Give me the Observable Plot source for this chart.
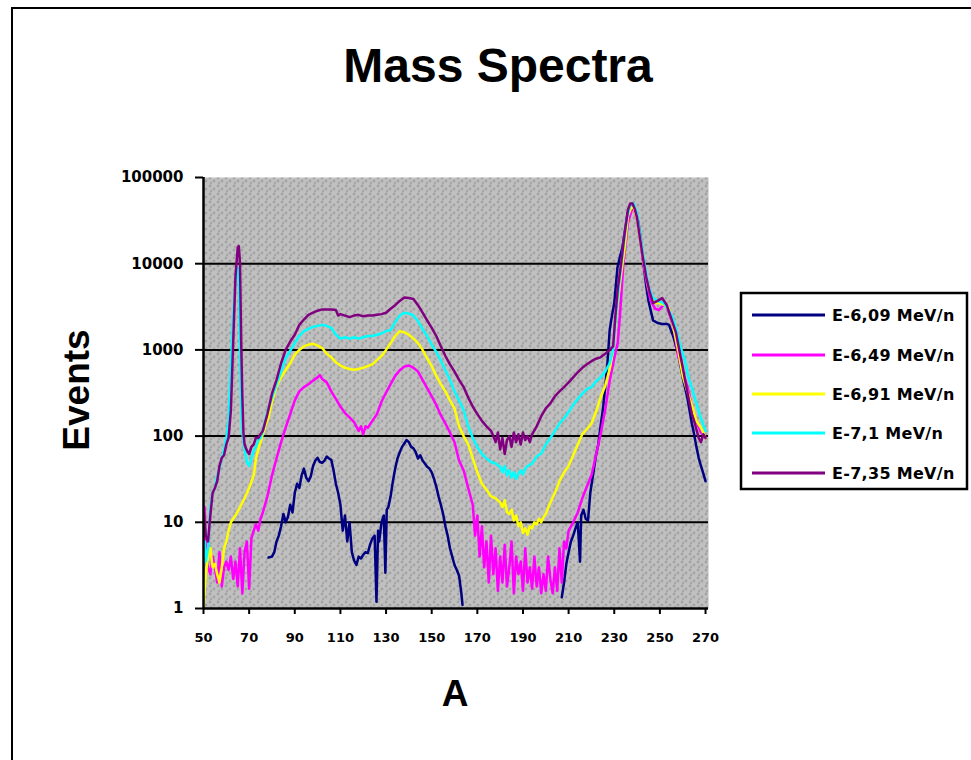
<!DOCTYPE html>
<html><head><meta charset="utf-8">
<script src="https://cdn.jsdelivr.net/npm/d3@7"></script>
<script src="https://cdn.jsdelivr.net/npm/@observablehq/plot@0.6"></script>
<style>
html,body{margin:0;padding:0;background:#fff;}
#wrap{position:relative;width:971px;height:760px;overflow:hidden;background:#fff;}
#border{position:absolute;left:11px;top:7px;width:1000px;height:800px;border-left:2px solid #000;border-top:2px solid #000;}
#chart{position:absolute;left:0;top:0;}
#chart svg text{font-family:"DejaVu Sans",sans-serif;font-weight:bold;}
#overlay{position:absolute;left:0;top:0;pointer-events:none;}
</style></head>
<body>
<div id="wrap"><div id="border"></div><div id="chart"></div><svg id="overlay" width="971" height="760"></svg></div>
<script>
const titleText = "Mass Spectra";
const xLabel = "A";
const yLabel = "Events";
const seriesNames = ["E-6,09 MeV/n","E-6,49 MeV/n","E-6,91 MeV/n","E-7,1 MeV/n","E-7,35 MeV/n"];
const seriesColors = ["#000080","#ff00ff","#ffff00","#00ffff","#800080"];
const xTicks = [50,70,90,110,130,150,170,190,210,230,250,270];
const yTicks = [1,10,100,1000,10000,100000];
const gridValues = [10,100,1000,10000];

const blue = [[78.5,3.9],[80,4],[81,4.5],[82,6],[83,7],[84,9],[85,12.5],[86,10],[87,11.5],[88,16],[89,13],[90,22],[91,28],[92,25],[93,35],[94,42],[95,33],[96,30],[97,34],[98,45],[99,52],[100,56],[101,50],[102,49],[103,52],[104,58],[105,55],[106,53],[107,40],[108,28],[109,22],[110,16],[111,8],[112,12],[113,6],[114,10],[115,4.5],[116,3.6],[117,3.2],[118,4],[119,3.8],[120,4.2],[121,4.5],[122,4.4],[123,5.5],[124,6.5],[125,7],[125.8,1.2],[126.5,8],[127,6],[128,10],[129,12],[129.7,2.6],[130.3,14],[131,15],[132,20],[133,30],[134,42],[135,55],[136,65],[137,75],[138,82],[139,90],[140,85],[141,75],[142,72],[143,65],[144,55],[145,60],[146,52],[147,48],[148,44],[149,42],[150,38],[151,32],[152,26],[153,20],[154,16],[155,12.5],[156,9],[157,7],[158,5],[159,4],[160,3.2],[161,2.8],[162,2.4],[163,1.5],[163.5,1.1],[165,null],[207,1.35],[208,2],[209,3.3],[210,4.5],[211,6],[212,7],[213,8.5],[214,10],[215,3.5],[215.5,12],[216.5,14],[217.5,11],[218.5,10.5],[219.5,22],[221,40],[222,60],[223,80],[224,130],[225,200],[226,360],[227,700],[228,1700],[229,2500],[230,3500],[231.4,9000],[232.5,12000],[233.6,15500],[234.5,22000],[235.8,38000],[237,48000],[238,50000],[239.5,40000],[240.6,30000],[241.7,18000],[242.8,10000],[244,5500],[245,3700],[247,2200],[249,2050],[251,2000],[253,2000],[254,1950],[256,1400],[258,900],[260,480],[262,280],[264,140],[264.7,115],[266,75],[267,56],[268,45],[269,37],[270,30]];

const pink = [[50,11],[50.5,15],[51,5],[52,3],[53,2.5],[54,4],[55,3],[56,2],[57,4.5],[58,1.8],[59,3],[60,3.5],[61,2.8],[62,4],[63,2.2],[64,3.5],[65,1.8],[66,5],[67,1.5],[68,4.5],[69,6],[70,1.7],[71,6.5],[72,8],[73,9.5],[74,8],[75,11],[76,13],[78,20],[80,35],[82,55],[84,85],[86,125],[88,180],[90,260],[92,330],[94,370],[96,400],[98,440],[100,480],[101,510],[102,460],[104,420],[106,330],[108,270],[110,220],[112,185],[114,165],[116,145],[118,115],[119,130],[120,105],[121,130],[122,125],[124,150],[126,180],[128,250],[130,320],[132,400],[134,500],[136,580],[138,640],[140,660],[142,620],[144,560],[146,450],[148,360],[150,290],[152,230],[154,175],[156,140],[158,110],[160,85],[162,52],[164,40],[166,25],[168,16],[169,7],[170,12],[171,4],[172,9],[173,3],[174,6],[175,2],[176,7],[177,2.5],[178,5],[179,1.6],[180,4],[181,2],[182,5.5],[183,1.8],[184,3],[185,6],[186,1.5],[187,4],[188,2.5],[189,3.5],[190,1.6],[191,5],[192,2],[193,3],[194,1.7],[195,4],[196,1.8],[197,3],[198,1.5],[199,2.5],[200,1.6],[201,4],[202,2.2],[203,1.5],[204,3],[205,1.6],[206,5],[207,2],[208,6],[209,5],[210,8],[212,10],[214,13],[216,19],[218,26],[220,35],[222,60],[224,105],[226,200],[228,440],[230,800],[231.5,1200],[232.5,2500],[234,10000],[236,30000],[238,45000],[239,40000],[240,32000],[241.5,18000],[243,9000],[244.5,5500],[246,3700],[248,3000],[249.5,2900],[251,3200],[252.5,3400],[254,2700],[256,1800],[258,850],[260,550],[262,380],[264,220],[266,150],[268,110],[270,95]];

const yellow = [[50,1],[51,2.5],[52,4],[53,5],[54,3],[55,3.3],[56,2.5],[57,2],[58,3],[59,5],[60,6],[61,8],[62,10],[64,12],[66,15],[68,19],[70,25],[72,35],[73,55],[74,70],[75.5,95],[77,130],[78.5,165],[80,250],[82,380],[84,480],[86,580],[88,700],[90,880],[92,1000],[94,1100],[96,1150],[98,1180],[100,1120],[102,1050],[104,900],[106,820],[108,720],[110,660],[112,620],[114,600],[116,590],[118,600],[120,620],[122,650],[124,680],[126,760],[128,850],[130,1000],[132,1200],[134,1450],[136,1650],[138,1600],[140,1500],[142,1350],[144,1200],[146,1000],[148,800],[150,650],[152,500],[154,400],[156,330],[158,260],[160,210],[162,130],[164,100],[166,80],[168,55],[170,38],[172,28],[174,24],[176,20],[178,19],[180,17],[181,15],[182,18],[183,13],[184,12.5],[185,14],[186,10.5],[187,12],[188,9],[189,10],[190,7.5],[191,8.5],[192,7.2],[193,9],[194,8.5],[195,10],[196,9.5],[197,11],[198,10],[199,11.5],[200,12.5],[202,17],[204,22],[206,30],[208,38],[210,45],[212,60],[214,80],[216,105],[218,120],[220,140],[222,190],[224,280],[226,380],[228,600],[229.5,1000],[231,2800],[233,7500],[234.5,15000],[236,36000],[237.5,45000],[238.5,45000],[240,33000],[241.5,18000],[243,10000],[245,5200],[246.5,4100],[248,3500],[250,3500],[252,3300],[254,3000],[256,1800],[258,1000],[260,500],[262,330],[264.3,215],[266,150],[268,125],[270,95]];

const cyan = [[50,4],[50.5,6],[51,3.5],[52,5],[53,15],[54,22],[55,25],[56,35],[57,42],[58,55],[59,70],[60,95],[61,150],[62,700],[63,2500],[64,6000],[65,9000],[65.5,8500],[66,800],[66.5,240],[67,110],[68,70],[69,50],[70,45],[71,55],[72,68],[73,75],[74,90],[75,95],[76,115],[78,190],[80,280],[82,400],[84,560],[86,800],[88,980],[90,1200],[92,1450],[94,1650],[96,1750],[98,1850],[100,1900],[102,1950],[104,1900],[106,1800],[108,1500],[110,1350],[112,1400],[114,1350],[116,1400],[118,1350],[120,1400],[122,1450],[124,1450],[126,1500],[128,1550],[130,1650],[132,1700],[134,2100],[136,2500],[138,2700],[140,2650],[142,2500],[144,2150],[146,1750],[148,1450],[150,1150],[152,950],[154,750],[156,580],[158,450],[160,330],[162,260],[164,200],[166,130],[168,95],[170,75],[172,62],[174,55],[176,50],[178,48],[180,44],[181,38],[182,45],[183,35],[184,40],[185,33],[186,38],[187,32],[188,37],[189,40],[190,36],[191,42],[192,45],[194,48],[196,58],[198,63],[200,80],[202,95],[204,115],[206,140],[208,160],[210,190],[212,230],[214,270],[216,310],[218,350],[220,370],[222,430],[224,480],[226,560],[228,700],[229.5,1000],[231,3000],[232.5,7000],[234,16000],[235.5,33000],[237,48000],[238.5,50000],[240,38000],[241.5,20000],[243,11000],[245,5500],[247,4000],[249,3700],[251.5,3500],[253.5,3000],[255.5,2400],[257,1800],[259,1100],[261,750],[262.5,480],[264.5,330],[266.5,215],[268,160],[270,115]];

const purple = [[50,14],[51,7],[52,6],[53,12],[54,22],[55,25],[56,30],[57,45],[58,56],[59,60],[60,80],[61,96],[62,200],[63,1200],[64,7000],[65,15500],[65.5,16000],[66,10000],[66.5,1300],[67,300],[67.5,110],[68,80],[69,68],[70,62],[71,75],[72,80],[73,96],[74,95],[75,105],[76,115],[78,180],[80,310],[82,450],[84,700],[86,1000],[88,1250],[90,1500],[92,1950],[94,2250],[96,2550],[98,2700],[100,2850],[102,2950],[104,2950],[106,2950],[108,2900],[109,2500],[110,2600],[112,2500],[114,2400],[116,2500],[118,2550],[120,2450],[122,2500],[124,2500],[126,2550],[128,2600],[130,2700],[132,3000],[134,3300],[136,3700],[138,4050],[140,4000],[142,3900],[144,3300],[146,2700],[148,2200],[150,1800],[152,1450],[154,1100],[156,850],[158,680],[160,560],[162,450],[164,370],[166,280],[168,220],[170,180],[172,150],[174,130],[176,115],[177,100],[178,85],[179,110],[180,70],[181,95],[182,62],[183,90],[184,100],[185,75],[186,110],[187,85],[188,105],[189,80],[190,110],[191,90],[192,100],[193,85],[194,105],[196,130],[198,170],[200,210],[202,240],[204,290],[206,330],[208,370],[210,420],[212,480],[214,550],[216,620],[218,680],[220,740],[222,790],[224,820],[226,900],[228,1000],[229.5,1100],[230.5,2500],[231.5,5000],[233,10000],[234.5,22000],[236,42000],[237,50000],[238,50000],[239,43000],[240,34000],[241,22000],[242.5,12000],[244,7000],[245.5,4700],[247,3500],[249,3700],[251,4000],[253,3300],[255,2300],[257,1600],[259,850],[260,630],[261,450],[262.5,280],[264,180],[265,150],[267,95],[268,85],[269,105],[270,95]];

const allSeries = [blue, pink, yellow, cyan, purple];

const lineMarks = allSeries.map((s, i) =>
  Plot.line(s.map(([A, v]) => ({A, v})), {x: "A", y: "v", stroke: seriesColors[i], strokeWidth: 2.5, clip: true})
);

const svg = Plot.plot({
  width: 971,
  height: 760,
  marginLeft: 203,
  marginRight: 263,
  marginTop: 177,
  marginBottom: 152,
  style: {background: "transparent", overflow: "visible"},
  x: {domain: [50, 271.3]},
  y: {type: "log", domain: [1, 100000]},
  marks: [
    Plot.frame({fill: "#c0c0c0", stroke: null}),
    Plot.frame({fill: "url(#dots)", stroke: null}),
    Plot.ruleY(gridValues, {stroke: "#000", strokeWidth: 2}),
    ...lineMarks,
    Plot.ruleX([50], {stroke: "#000", strokeWidth: 2.5}),
    Plot.ruleY([1], {stroke: "#000", strokeWidth: 2.5}),
    Plot.axisY({ticks: yTicks, tickFormat: d => String(d), tickSize: 8, tickPadding: 12, fontSize: 15, strokeWidth: 2, label: null}),
    Plot.axisX({ticks: xTicks, tickFormat: d => String(d), tickSize: 6, tickPadding: 18, fontSize: 13, strokeWidth: 2, label: null})
  ]
});

const ns = "http://www.w3.org/2000/svg";
const defs = document.createElementNS(ns, "defs");
defs.innerHTML = '<pattern id="dots" width="8" height="8" patternUnits="userSpaceOnUse">' +
  '<circle cx="1.5" cy="1.5" r="0.9" fill="#7c7c7c"/>' +
  '<circle cx="5.5" cy="4.5" r="0.9" fill="#7c7c7c"/>' +
  '<circle cx="2.5" cy="6.5" r="0.9" fill="#8a8a8a"/></pattern>';
svg.prepend(defs);
document.getElementById("chart").appendChild(svg);

// Overlay texts and legend
const ov = d3.select("#overlay");
const font = '"Liberation Sans", Arial, sans-serif';
ov.append("text").attr("x", 498).attr("y", 82).attr("text-anchor", "middle")
  .attr("font-family", font).attr("font-weight", "bold").attr("font-size", 48).text(titleText);
ov.append("text").attr("transform", "translate(89,390) rotate(-90)").attr("text-anchor", "middle")
  .attr("font-family", font).attr("font-weight", "bold").attr("font-size", 37).text(yLabel);
ov.append("text").attr("x", 455).attr("y", 706).attr("text-anchor", "middle")
  .attr("font-family", font).attr("font-weight", "bold").attr("font-size", 37).text(xLabel);

const lg = ov.append("g");
lg.append("rect").attr("x", 741).attr("y", 293).attr("width", 226).attr("height", 196)
  .attr("fill", "#fff").attr("stroke", "#000").attr("stroke-width", 2.5);
const rowY = [315, 355, 394, 433, 473];
seriesNames.forEach((name, i) => {
  lg.append("line").attr("x1", 752).attr("x2", 825).attr("y1", rowY[i]).attr("y2", rowY[i])
    .attr("stroke", seriesColors[i]).attr("stroke-width", 3);
  lg.append("text").attr("x", 832).attr("y", rowY[i] + 6)
    .attr("font-family", '"DejaVu Sans", sans-serif').attr("font-weight", "bold")
    .attr("font-size", 16).attr("letter-spacing", 0.3).text(name);
});
</script>
</body></html>
